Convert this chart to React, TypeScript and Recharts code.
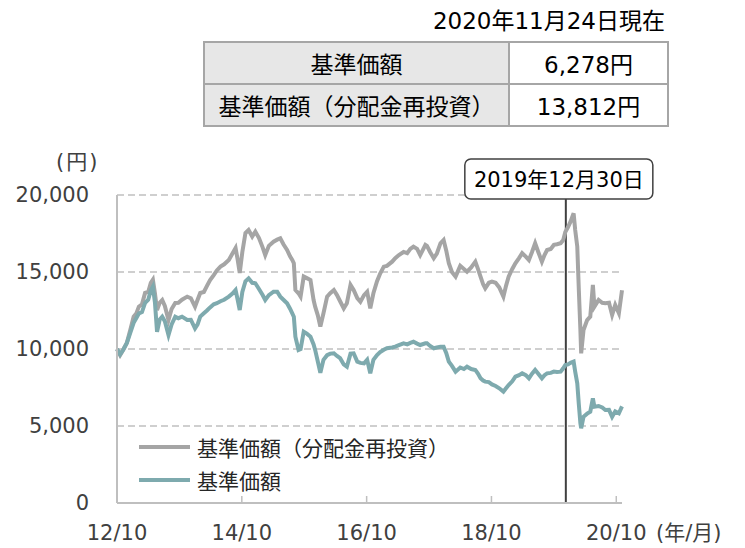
import React from 'react';
import { LineChart, Line, XAxis, YAxis, CartesianGrid, ReferenceLine, Legend } from 'recharts';

// months since 2012/10
const months = [
  0, 0.6, 1.2, 1.9, 2.6, 3.2, 3.7, 4.2, 4.8, 5.4, 6.0, 6.5, 6.9, 7.3, 7.7, 8.2, 8.7, 9.2, 9.9, 10.5,
  11.2, 11.8, 12.5, 13.5, 14.2, 15.0, 15.5, 16.0, 16.7, 17.3, 17.9, 18.6, 19.2, 19.9, 20.6, 21.5, 22.2, 22.8, 23.2, 23.6,
  24.1, 24.7, 25.3, 26.0, 26.6, 27.3, 28.0, 28.5, 29.2, 30.1, 30.8, 31.4, 32.0, 32.7, 33.3, 33.7, 34.0, 34.3, 34.9, 35.3,
  35.9, 36.5, 37.2, 37.8, 38.1, 38.6, 39.1, 39.7, 40.4, 41.0, 41.7, 42.3, 42.9, 43.6, 44.2, 44.9, 45.5, 46.2, 46.8, 47.5,
  48.1, 48.7, 49.3, 50.0, 50.6, 51.3, 51.9, 52.9, 53.5, 54.2, 55.1, 55.8, 56.4, 57.0, 57.7, 58.3, 59.3, 59.6, 60.2, 60.9,
  61.5, 62.2, 62.8, 63.3, 63.8, 64.4, 65.1, 66.0, 66.7, 67.3, 68.1, 68.9, 69.4, 69.9, 70.4, 70.8, 71.5, 72.1, 72.8, 73.5,
  74.3, 74.8, 75.3, 76.0, 76.6, 77.3, 77.9, 78.6, 79.2, 79.8, 80.4, 81.0, 81.7, 82.2, 82.7, 83.4, 84.0, 84.6, 85.3, 85.8,
  86.2, 86.7, 87.2, 87.8, 88.1, 88.5, 88.8, 89.1, 89.25, 89.7, 90.4, 91.0, 91.5, 91.8, 92.6, 93.3, 93.9, 94.6, 95.2, 95.8,
  96.5, 97.1,
];

// 基準価額（分配金再投資）
const reinvested = [
  10000, 9600, 9950, 10400, 11300, 12100, 12300, 12750, 12900, 13640, 13700, 14300, 14500, 13600, 12530, 13000, 13180, 12800, 11880, 12600,
  12990, 13000, 13200, 13400, 13300, 12750, 13200, 13640, 13700, 14100, 14480, 14800, 15100, 15350, 15500, 15780, 16200, 16560, 15800, 14940,
  16300, 17530, 17730, 17300, 17620, 17200, 16600, 16100, 16700, 16970, 17100, 17190, 16800, 16430, 16000, 15780, 15570, 13830, 13620, 13400,
  14700, 14600, 14480, 13180, 12750, 12200, 11450, 12320, 13400, 13620, 13830, 13500, 13100, 12640, 12970, 14160, 13830, 13300, 13070, 13500,
  13720, 12640, 13620, 14400, 14900, 15350, 15400, 15670, 15900, 16100, 16300, 16220, 16500, 16650, 16500, 16100, 16760, 16700, 16300, 15890,
  16200, 16870, 17080, 16400, 15570, 15000, 14700, 15400, 15200, 15020, 15300, 15670, 15200, 14700, 14200, 13940, 14300, 14370, 14300, 14000,
  13400, 14100, 14700, 15200, 15570, 15900, 16220, 16000, 15780, 16300, 16870, 16300, 15670, 16100, 16430, 16500, 16760, 16800, 16870, 17080,
  17600, 17900, 18270, 18810, 17730, 16650, 13830, 11230, 9720, 11230, 11880, 12100, 14160, 12750, 13180, 13000, 12970, 13000, 12210, 12860,
  12320, 13812,
];

// 基準価額
const nav = [
  10000, 9650, 9950, 10400, 11100, 11700, 12000, 12300, 12400, 12990, 13200, 13800, 14050, 13000, 11120, 11900, 12100, 11800, 10910, 11600,
  12100, 12000, 12100, 11880, 11900, 11340, 11600, 12100, 12320, 12500, 12700, 12900, 12970, 13100, 13200, 13400, 13600, 13830, 13200, 12530,
  13700, 14400, 14590, 14300, 14270, 13900, 13500, 13180, 13500, 13720, 13720, 13400, 13200, 12970, 12600, 12320, 12100, 10800, 9940, 10000,
  11120, 11000, 10800, 10300, 9940, 9200, 8450, 9300, 9600, 9700, 9720, 9550, 9400, 9000, 8850, 9700, 9720, 9180, 9100, 9070,
  9300, 8420, 9300, 9610, 9800, 9950, 10050, 10100, 10150, 10250, 10370, 10300, 10400, 10470, 10350, 10260, 10370, 10370, 10200, 10050,
  10100, 10150, 10150, 9750, 9180, 8900, 8530, 8800, 8700, 8850, 8700, 8640, 8400, 8100, 7950, 7880, 7850, 7700, 7600, 7450,
  7230, 7450, 7660, 7900, 8200, 8300, 8420, 8300, 8100, 8400, 8640, 8400, 8100, 8300, 8420, 8450, 8530, 8500, 8530, 8750,
  8960, 9000, 9100, 9180, 8530, 7770, 6400, 5180, 4850, 5600, 5800, 5930, 6800, 6250, 6300, 6200, 6040, 6050, 5600, 5950,
  5830, 6278,
];

const xTicks = [0, 24, 48, 72, 96];
const xTickLabels = ['12/10', '14/10', '16/10', '18/10', '20/10'];
const yTicks = [0, 5000, 10000, 15000, 20000];
const seriesNames = ['基準価額（分配金再投資）', '基準価額'];
const markerMonth = 86.3; // 2019/12/30
const markerLabel = '2019年12月30日';
const asOfLabel = '2020年11月24日現在';
const tableRows = [
  ['基準価額', '6,278円'],
  ['基準価額（分配金再投資）', '13,812円'],
];

const GRAY = '#a5a5a5';
const TEAL = '#7eaaae';
const FONT = "'DejaVu Sans', 'Noto Sans CJK JP', sans-serif";

const chartData = months.map((m, i) => ({ m, reinvested: reinvested[i], nav: nav[i] }));

const MarkerLabel = (props: any) => {
  const { viewBox } = props;
  const w = 188;
  const h = 40;
  const x = viewBox.x - 101;
  const y = viewBox.y - 36;
  return (
    <g>
      <rect x={x} y={y} width={w} height={h} rx={6} ry={6} fill="#fff" stroke="#404040" strokeWidth={1.5} />
      <text x={x + w / 2} y={y + h / 2} dy="0.36em" textAnchor="middle" fontSize={21} fontFamily={FONT} fill="#000">
        {markerLabel}
      </text>
    </g>
  );
};

const LegendBox = () => (
  <div style={{ fontFamily: FONT, fontSize: 21, color: '#262626' }}>
    {seriesNames.map((name, i) => (
      <div key={name} style={{ display: 'flex', alignItems: 'center', height: 33 }}>
        <div style={{ width: 51, height: 4, background: i === 0 ? GRAY : TEAL, marginRight: 7 }} />
        <span>{name}</span>
      </div>
    ))}
  </div>
);

const cell: React.CSSProperties = {
  border: '2px solid #a6a6a6',
  height: 40,
  padding: 0,
  textAlign: 'center',
  fontSize: 23,
  color: '#000',
};

export default function App() {
  return (
    <div style={{ position: 'absolute', left: 0, top: 0, width: 745, height: 548, background: '#fff', fontFamily: FONT }}>
      <div style={{ position: 'absolute', right: 80, top: 8, fontSize: 23, lineHeight: '26px', color: '#000' }}>
        {asOfLabel}
      </div>
      <table
        style={{
          position: 'absolute',
          left: 203,
          top: 41,
          width: 464,
          borderCollapse: 'collapse',
          tableLayout: 'fixed',
          fontFamily: FONT,
        }}
      >
        <colgroup>
          <col style={{ width: 305 }} />
          <col style={{ width: 159 }} />
        </colgroup>
        <tbody>
          {tableRows.map(([k, v]) => (
            <tr key={k}>
              <td style={{ ...cell, background: '#e7e7e7' }}>{k}</td>
              <td style={cell}>{v}</td>
            </tr>
          ))}
        </tbody>
      </table>
      <div style={{ position: 'absolute', left: 56, top: 149, fontSize: 21, lineHeight: '26px', letterSpacing: 2, color: '#404040' }}>
        (円)
      </div>
      <div style={{ position: 'absolute', left: 656, top: 520, fontSize: 21, lineHeight: '26px', color: '#404040' }}>
        (年/月)
      </div>
      <div style={{ position: 'absolute', left: 0, top: 0 }}>
        <LineChart width={745} height={548} data={chartData} margin={{ top: 195, right: 123, bottom: 0, left: 17 }}>
          <CartesianGrid vertical={false} stroke="#c0c0c0" strokeWidth={1.5} strokeDasharray="7 4" />
          <XAxis
            type="number"
            dataKey="m"
            domain={[0, 97.1]}
            ticks={xTicks}
            interval={0}
            height={45}
            tickFormatter={(v: number) => xTickLabels[xTicks.indexOf(v)]}
            axisLine={{ stroke: '#bfbfbf', strokeWidth: 2 }}
            tickLine={{ stroke: '#bfbfbf', strokeWidth: 1.5 }}
            tickSize={-7}
            tickMargin={29}
            tick={{ fontSize: 21, fontFamily: FONT, fill: '#404040' }}
          />
          <YAxis
            domain={[0, 20000]}
            ticks={yTicks}
            interval={0}
            width={100}
            tickFormatter={(v: number) => v.toLocaleString('en-US')}
            axisLine={{ stroke: '#bfbfbf', strokeWidth: 2 }}
            tickLine={false}
            tickSize={0}
            tickMargin={28}
            tick={{ fontSize: 21, fontFamily: FONT, fill: '#404040' }}
          />
          <Legend
            layout="vertical"
            align="center"
            verticalAlign="middle"
            content={<LegendBox />}
            wrapperStyle={{ position: 'absolute', left: 139, top: 430, width: 'auto', bottom: 'auto' }}
          />
          <ReferenceLine x={markerMonth} stroke="#404040" strokeWidth={2} label={<MarkerLabel />} />
          <Line
            dataKey="reinvested"
            name={seriesNames[0]}
            stroke={GRAY}
            strokeWidth={4}
            dot={false}
            type="linear"
            isAnimationActive={false}
          />
          <Line
            dataKey="nav"
            name={seriesNames[1]}
            stroke={TEAL}
            strokeWidth={4}
            dot={false}
            type="linear"
            isAnimationActive={false}
          />
        </LineChart>
      </div>
    </div>
  );
}
